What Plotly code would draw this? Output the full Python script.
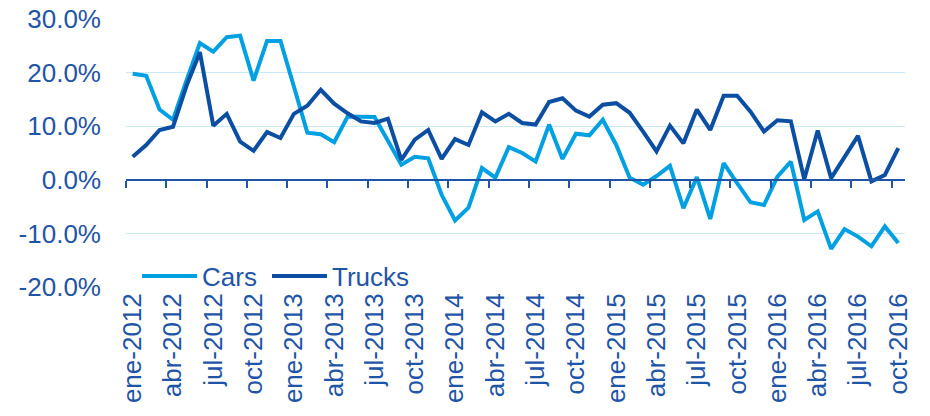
import plotly.graph_objects as go

months = ["ene", "feb", "mar", "abr", "may", "jun", "jul", "ago", "sep", "oct", "nov", "dic"]
labels = [f"{m}-{y}" for y in range(2012, 2017) for m in months][:58]

cars = [19.8, 19.4, 13.1, 11.2, 18.5, 25.5, 23.9, 26.6, 26.9, 18.5, 25.9, 25.9,
        17.4, 8.8, 8.5, 7.0, 11.8, 11.8, 11.7, 7.3, 2.8, 4.3, 4.0, -2.8,
        -7.6, -5.2, 2.2, 0.4, 6.1, 5.0, 3.4, 10.3, 3.9, 8.6, 8.3, 11.2,
        6.5, 0.4, -0.9, 0.7, 2.6, -5.3, 0.5, -7.3, 3.1, -0.6, -4.2, -4.7,
        0.6, 3.4, -7.5, -5.9, -12.9, -9.2, -10.6, -12.4, -8.7, -11.8]
trucks = [4.3, 6.5, 9.3, 9.9, 17.5, 23.8, 10.1, 12.3, 7.1, 5.4, 8.9, 7.8,
          12.3, 13.8, 16.8, 14.2, 12.4, 10.9, 10.6, 11.4, 3.7, 7.5, 9.3, 3.9,
          7.6, 6.5, 12.6, 10.9, 12.3, 10.6, 10.3, 14.5, 15.2, 12.9, 11.8, 14.0,
          14.3, 12.5, 9.0, 5.3, 10.1, 6.8, 13.1, 9.3, 15.7, 15.7, 12.7, 9.0,
          11.1, 10.9, 0.1, 9.2, 0.3, 4.3, 8.2, -0.3, 0.9, 5.9]

y_tickvals = [-0.2, -0.1, 0.0, 0.1, 0.2, 0.3]
y_ticktext = ["-20.0%", "-10.0%", "0.0%", "10.0%", "20.0%", "30.0%"]

series_names = ["Cars", "Trucks"]
series_colors = ["#00A0E3", "#0B4EA2"]

x = list(range(len(labels)))
TXT = "#1F55A6"
FONT = "Liberation Sans, Arial, sans-serif"
FS = 26

fig = go.Figure()
for name, vals, col in zip(series_names, [cars, trucks], series_colors):
    fig.add_trace(go.Scatter(x=x, y=[v / 100 for v in vals], name=name, mode="lines",
                             line=dict(color=col, width=4), text=labels,
                             showlegend=False))

# dummy invisible trace so xaxis2 is drawn
fig.add_trace(go.Scatter(x=[x[0]], y=[None], xaxis="x2", showlegend=False,
                         hoverinfo="skip", mode="lines"))

# custom legend (longer line samples than plotly's built-in legend)
L, W, B, H = 126, 779, 287, 268
def px(v):
    return (v - L) / W
def py(v):
    return (B - v) / H
leg_items = [(142, 197, 200), (272, 327, 330)]
for (x0, x1, xt), name, col in zip(leg_items, series_names, series_colors):
    fig.add_shape(type="line", xref="paper", yref="paper", x0=px(x0), x1=px(x1),
                  y0=py(276), y1=py(276), line=dict(color=col, width=4))
    fig.add_annotation(xref="paper", yref="paper", x=px(xt), y=py(276.5),
                       xanchor="left", yanchor="middle", text=name, showarrow=False,
                       font=dict(size=FS, color=TXT, family=FONT))

rng = [-0.5, len(labels) - 0.5]
fig.update_layout(
    width=930, height=416,
    margin=dict(l=126, r=25, t=19, b=129, autoexpand=False),
    paper_bgcolor="white", plot_bgcolor="white",
    font=dict(family=FONT, size=FS, color=TXT),
    showlegend=False,
    xaxis=dict(range=rng, anchor="free", position=0.4, showline=True,
               linecolor=TXT, linewidth=2, showgrid=False, zeroline=False,
               ticks="outside", ticklen=7, tickwidth=2, tickcolor=TXT,
               tickvals=[i - 0.5 for i in x[::3]], showticklabels=False,
               automargin=False),
    xaxis2=dict(range=rng, overlaying="x", anchor="y", side="bottom",
                showline=False, showgrid=False, zeroline=False, ticks="",
                tickvals=x[::3], ticktext=labels[::3], tickangle=-90,
                tickfont=dict(size=FS, color=TXT), automargin=False,
                ticklabeloverflow="allow"),
    yaxis=dict(range=[-0.2, 0.3], tickvals=y_tickvals, ticktext=y_ticktext,
               showgrid=True, gridcolor="#C8E9F8", gridwidth=1, zeroline=False,
               showline=False, ticklabelstandoff=24, automargin=False,
               ticklabeloverflow="allow",
               tickfont=dict(size=FS, color=TXT)),
)
fig.write_html("out.html", config={"displayModeBar": False},
               post_script="document.body.style.margin='0';document.body.style.overflow='hidden';")
